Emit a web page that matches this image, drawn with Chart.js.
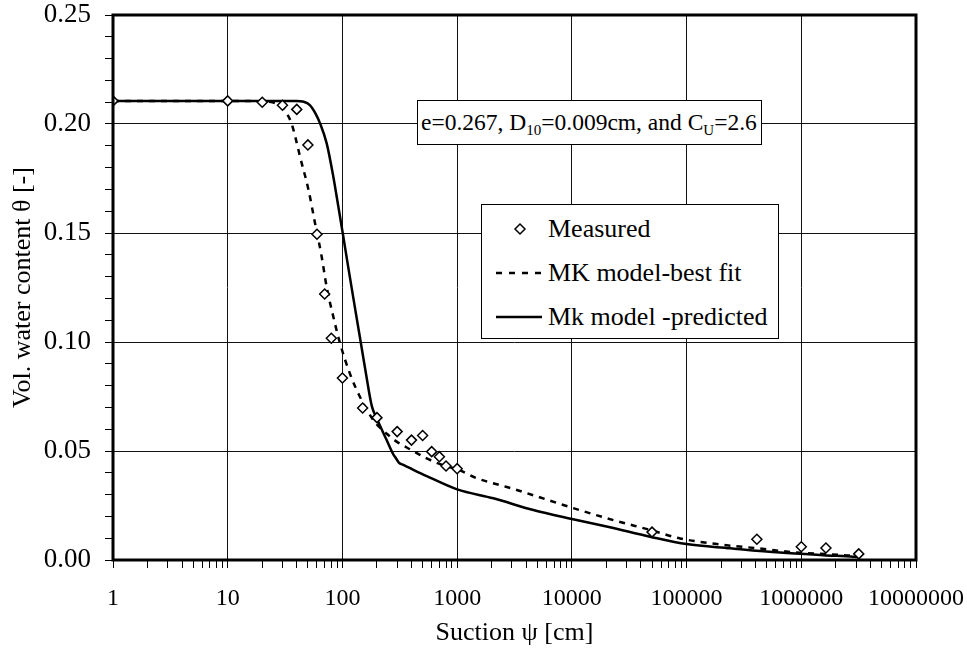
<!DOCTYPE html>
<html><head><meta charset="utf-8">
<script src="https://cdn.jsdelivr.net/npm/chart.js@4.4.1/dist/chart.umd.min.js"></script>
<style>
html,body{margin:0;padding:0;background:#fff;}
#wrap{position:relative;width:967px;height:653px;font-family:'Liberation Serif','Times New Roman',serif;color:#000;}
#c{position:absolute;left:0;top:0;}
.box{position:absolute;background:#fff;border:1px solid #000;box-sizing:border-box;}
#note{left:417px;top:100px;width:345px;height:45px;font-size:23.5px;line-height:43px;padding-left:3px;white-space:nowrap;}
#note sub{font-size:15px;vertical-align:baseline;position:relative;top:5px;line-height:0;}
#legend{left:481px;top:204px;width:298px;height:135px;font-size:26px;}
.row{position:absolute;left:0;height:30px;width:100%;}
.row svg{position:absolute;left:12px;top:0;}
.row span{position:absolute;left:66px;top:0;line-height:30px;white-space:nowrap;}
</style></head><body>
<div id="wrap">
<canvas id="c" width="967" height="653"></canvas>
<div id="note" class="box">e=0.267, D<sub>10</sub>=0.009cm, and C<sub>U</sub>=2.6</div>
<div id="legend" class="box">
  <div class="row" style="top:9px"><svg width="50" height="30"><polygon points="26,10 31,15 26,20 21,15" fill="#fff" stroke="#000" stroke-width="1.5"/></svg><span>Measured</span></div>
  <div class="row" style="top:53px"><svg width="50" height="30"><line x1="2" y1="15" x2="50" y2="15" stroke="#000" stroke-width="2.5" stroke-dasharray="6,7"/></svg><span>MK model-best fit</span></div>
  <div class="row" style="top:97px"><svg width="50" height="30"><line x1="2" y1="15" x2="48" y2="15" stroke="#000" stroke-width="2.5"/></svg><span>Mk model -predicted</span></div>
</div>
</div>
<script>
// ---- data ----
const measuredX = [1,10,20,30,40,50,60,70,80,100,150,200,300,400,500,600,700,800,1000,50000,410000,1000000,1640000,3170000];
const measuredY = [0.2106,0.2106,0.2100,0.2086,0.2067,0.1904,0.1494,0.1220,0.1017,0.0835,0.0697,0.0653,0.0589,0.0550,0.0571,0.0497,0.0474,0.0431,0.0419,0.0128,0.0095,0.0061,0.0055,0.0028];

const fitX = [1,10,20,25,30,33,36,39.4,42.7,50.5,57.7,66,73,83.3,95.3,116,142,186,260,297,388,543,759,1000,1483,2500,3311,10000,23000,48000,87800,183000,409000,914000,1780000,3050000];
const fitY = [0.2106,0.2106,0.2104,0.2098,0.2078,0.2045,0.2003,0.1927,0.1850,0.1700,0.1545,0.1390,0.1250,0.1116,0.0994,0.0856,0.0749,0.0642,0.0566,0.0543,0.0508,0.0466,0.0434,0.0416,0.0375,0.0340,0.0321,0.0240,0.0183,0.0138,0.0099,0.0073,0.0054,0.0034,0.0026,0.0018];

const predX = [1,10,40,45,52,58,63.8,73,83.3,92.2,100.6,111.9,126.2,142.4,160.6,180.4,199,243,278,290,310,340,400,543,1000,2070,4615,10000,21500,48000,100000,240000,653000,1560000,2840000,3200000];
const predY = [0.2106,0.2106,0.2106,0.2103,0.2087,0.2050,0.2003,0.1910,0.1758,0.1620,0.1500,0.1349,0.1183,0.1018,0.0853,0.0706,0.0650,0.0550,0.0484,0.0470,0.0447,0.0436,0.0418,0.0385,0.0324,0.0283,0.0229,0.0188,0.0150,0.0107,0.0073,0.0054,0.0034,0.0022,0.0015,0.0013];

const xTickLabels = ['1','10','100','1000','10000','100000','1000000','10000000'];
const yTickLabels = ['0.00','0.05','0.10','0.15','0.20','0.25'];

const pts = (xs, ys) => xs.map((x, i) => ({x: x, y: ys[i]}));
const FONT = "'Liberation Serif','Times New Roman',serif";

const isDecade = v => Math.abs(Math.log10(v) - Math.round(Math.log10(v))) < 1e-9;
const isYMajor = v => Math.abs(v * 20 - Math.round(v * 20)) < 1e-9;

const frame = {
  id: 'frame',
  afterDraw(chart) {
    const {ctx, chartArea: a} = chart;
    ctx.save();
    ctx.strokeStyle = '#000';
    ctx.lineWidth = 3;
    ctx.strokeRect(a.left, a.top, a.right - a.left, a.bottom - a.top);
    ctx.restore();
  }
};

new Chart(document.getElementById('c'), {
  type: 'line',
  data: {
    datasets: [
      {label: 'Measured', data: pts(measuredX, measuredY), showLine: false, pointStyle: 'rectRot', pointRadius: 5, pointBackgroundColor: '#fff', pointBorderColor: '#000', pointBorderWidth: 1.5, order: 0},
      {label: 'MK model-best fit', data: pts(fitX, fitY), borderColor: '#000', borderWidth: 2.5, borderDash: [6, 6], pointRadius: 0, cubicInterpolationMode: 'monotone', fill: false, order: 1},
      {label: 'Mk model -predicted', data: pts(predX, predY), borderColor: '#000', borderWidth: 2.5, pointRadius: 0, cubicInterpolationMode: 'monotone', fill: false, order: 2}
    ]
  },
  options: {
    responsive: false,
    animation: false,
    events: [],
    layout: {padding: {left: 0, right: 51, top: 15, bottom: 0}},
    plugins: {legend: {display: false}, tooltip: {enabled: false}},
    scales: {
      x: {
        type: 'logarithmic', min: 1, max: 1e7,
        afterBuildTicks: s => {
          const t = [];
          for (let k = 0; k < 7; k++) for (let m = 1; m < 10; m++) t.push({value: m * Math.pow(10, k)});
          t.push({value: 1e7});
          s.ticks = t;
        },
        afterFit: s => { s.height = 93; s.paddingLeft = 0; s.paddingRight = 0; },
        ticks: {
          autoSkip: false, maxRotation: 0, padding: 16, color: '#000',
          font: {family: FONT, size: 24},
          callback: v => isDecade(v) ? xTickLabels[Math.round(Math.log10(v))] : ''
        },
        grid: {
          color: c => (c.tick && isDecade(c.tick.value)) ? '#111' : 'rgba(0,0,0,0)',
          lineWidth: 1, drawTicks: true, tickLength: 8, tickColor: '#000', tickWidth: 1
        },
        border: {display: false},
        title: {display: true, text: 'Suction ψ [cm]', color: '#000', font: {family: FONT, size: 26}, padding: {top: 0, bottom: 4}}
      },
      y: {
        type: 'linear', min: 0, max: 0.25,
        afterBuildTicks: s => {
          const t = [];
          for (let i = 0; i <= 25; i++) t.push({value: i / 100});
          s.ticks = t;
        },
        afterFit: s => { s.width = 113; s.paddingTop = 0; s.paddingBottom = 0; },
        ticks: {
          autoSkip: false, padding: 14, color: '#000',
          font: {family: FONT, size: 27},
          callback: v => isYMajor(v) ? yTickLabels[Math.round(v * 20)] : ''
        },
        grid: {
          color: c => (c.tick && isYMajor(c.tick.value)) ? '#111' : 'rgba(0,0,0,0)',
          lineWidth: 1, drawTicks: true, tickLength: 8, tickColor: '#000', tickWidth: 1
        },
        border: {display: false},
        title: {display: true, text: 'Vol. water content θ [-]', color: '#000', font: {family: FONT, size: 26}, padding: {top: 8, bottom: 0}}
      }
    }
  },
  plugins: [frame]
});
</script>
</body></html>
